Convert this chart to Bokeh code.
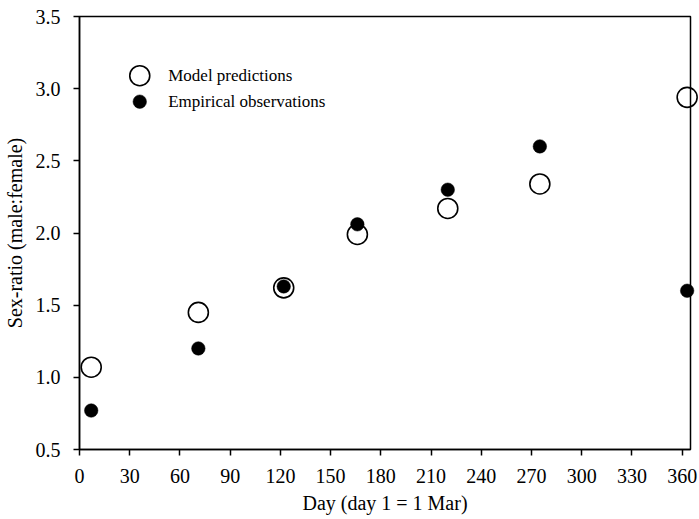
from bokeh.plotting import figure
from bokeh.models import FixedTicker, Range1d, PrintfTickFormatter
from bokeh.core.properties import value
from bokeh.embed import file_html
from bokeh.resources import INLINE

# ---- data ----
days = [7, 71, 122, 166, 220, 275, 363]
model_pred = [1.07, 1.45, 1.62, 1.99, 2.17, 2.34, 2.94]
empirical_obs = [0.77, 1.20, 1.63, 2.06, 2.30, 2.60, 1.60]
x_ticks = [0, 30, 60, 90, 120, 150, 180, 210, 240, 270, 300, 330, 360]
y_ticks = [0.5, 1.0, 1.5, 2.0, 2.5, 3.0, 3.5]
legend_labels = ["Model predictions", "Empirical observations"]
x_label = "Day (day 1 = 1 Mar)"
y_label = "Sex-ratio (male:female)"

# ---- layout / style ----
FONT = "Liberation Serif"
LEG_MARK_X = 36
LEG_TEXT_X = 53
LEG_Y = [3.09, 2.91]

p = figure(width=699, height=519, output_backend="svg", toolbar_location=None,
           x_range=Range1d(0, 365), y_range=Range1d(0.5, 3.5),
           min_border_left=77, min_border_right=9, min_border_top=16,
           min_border_bottom=70)
p.grid.visible = False
p.outline_line_color = "black"
p.outline_line_width = 1.5
p.outline_line_alpha = 1.0
p.background_fill_color = "white"
p.border_fill_color = "white"

for ax in (p.xaxis[0], p.yaxis[0]):
    ax.axis_line_width = 1.5
    ax.axis_line_color = "black"
    ax.major_tick_line_width = 1.5
    ax.major_tick_line_color = "black"
    ax.major_tick_in = 0
    ax.major_tick_out = 6
    ax.minor_tick_line_color = None
    ax.major_label_text_font = FONT
    ax.major_label_text_font_size = "20px"
    ax.major_label_text_color = "black"
    ax.axis_label_text_font = FONT
    ax.axis_label_text_font_size = "20px"
    ax.axis_label_text_font_style = "normal"
    ax.axis_label_text_color = "black"

p.xaxis.ticker = FixedTicker(ticks=x_ticks)
p.yaxis.ticker = FixedTicker(ticks=y_ticks)
p.yaxis.formatter = PrintfTickFormatter(format="%.1f")
p.xaxis.axis_label = x_label
p.yaxis.axis_label = y_label
p.xaxis.major_label_standoff = 13
p.xaxis.axis_label_standoff = 6
p.yaxis.major_label_standoff = 13
p.yaxis.axis_label_standoff = 7

p.scatter(days, model_pred, marker="circle", size=20, fill_color="white",
          fill_alpha=0.0, line_color="black", line_width=1.6, level="overlay")
p.scatter(days, empirical_obs, marker="circle", size=13.5, fill_color="black",
          line_color="black", line_width=0.5, level="overlay")

# legend
p.scatter([LEG_MARK_X], [LEG_Y[0]], marker="circle", size=20, fill_color="white",
          fill_alpha=0.0, line_color="black", line_width=1.6)
p.scatter([LEG_MARK_X], [LEG_Y[1]], marker="circle", size=13.5, fill_color="black",
          line_color="black", line_width=0.5)
p.text([LEG_TEXT_X, LEG_TEXT_X], LEG_Y, text=legend_labels,
       text_font=value(FONT), text_font_size="17px", text_baseline="middle",
       text_align="left", text_color="black")

open("out.html", "w").write(file_html(p, INLINE))
